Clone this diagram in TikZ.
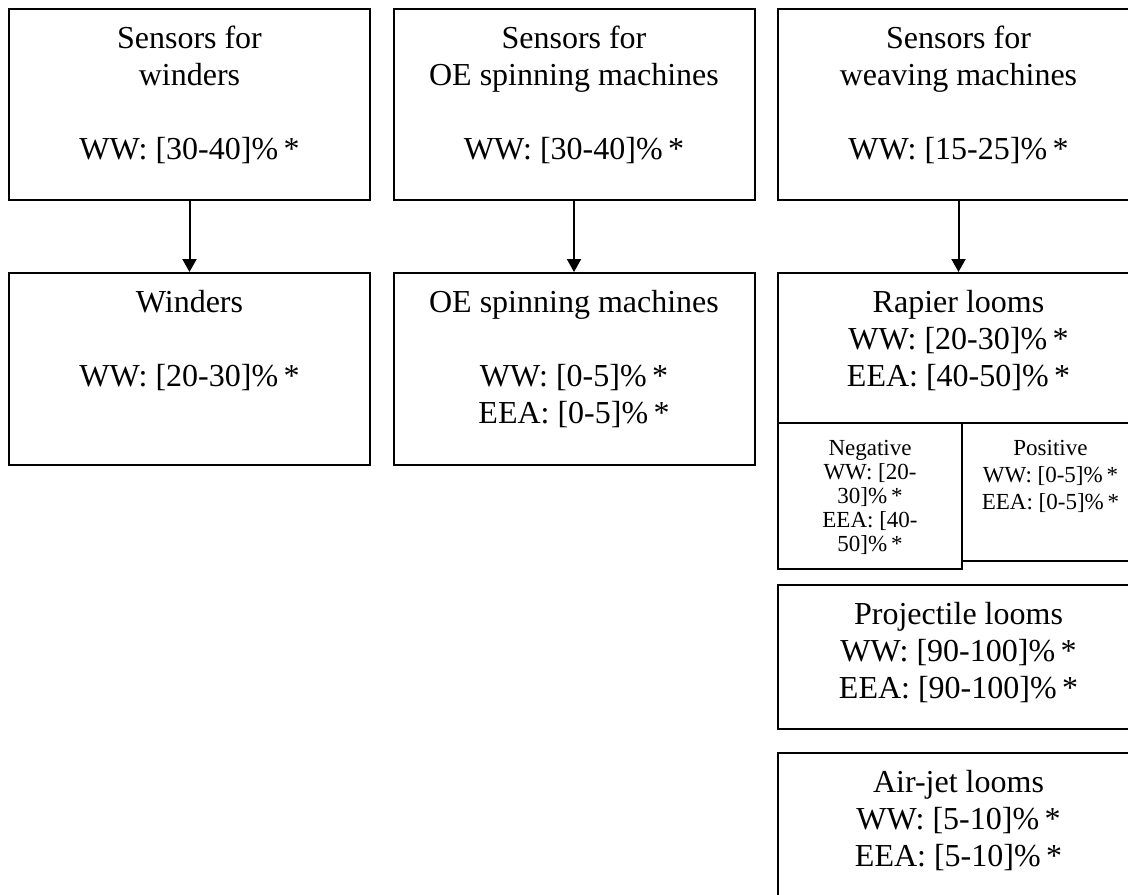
\documentclass[tikz,border=0pt]{standalone}
\usepackage{fontspec}
\setmainfont{Liberation Serif}
\usetikzlibrary{positioning}
\usetikzlibrary{arrows.meta}
\newcommand{\pcast}{\%\,*}
\tikzset{
 box/.style={draw, line width=1pt, minimum width=180.5pt, anchor=north west, inner sep=0},
 txt/.style={align=center, inner sep=0, font=\fontsize{16}{18.5}\selectfont},
 small/.style={align=center, inner sep=0, font=\fontsize{11.5}{12}\selectfont},
 link/.style={line width=1pt, -{Triangle[width=7pt,length=6.5pt]}}
}

\begin{document}
\begin{tikzpicture}[x=.5pt, y=-.5pt]
\useasboundingbox (0,0) rectangle (1128,894);
\clip (0,0) rectangle (1128,894);
% sensors
\node[box, minimum height=95.5pt] (sensWind) at (8,8) {};
\node[box, minimum height=95.5pt] (sensOE) at (392.5,8) {};
\node[box, minimum height=95.5pt] (sensWeave) at (777,8) {};
\node[txt, below=9pt of sensWind.north] (sensWind-t) {Sensors for\\winders\\[18.5pt]WW: [30-40]\pcast};
\node[txt, below=9pt of sensOE.north] (sensOE-t) {Sensors for\\OE spinning machines\\[18.5pt]WW: [30-40]\pcast};
\node[txt, below=9pt of sensWeave.north] (sensWeave-t) {Sensors for\\weaving machines\\[18.5pt]WW: [15-25]\pcast};
% machines
\node[box, minimum height=96pt] (wind) at (8,272) {};
\node[box, minimum height=96pt] (oe) at (392.5,272) {};
\node[box, minimum height=75pt] (rapier) at (777,272) {};
\node[txt, below=9pt of wind.north] (wind-t) {Winders\\[18.5pt]WW: [20-30]\pcast};
\node[txt, below=9pt of oe.north] (oe-t) {OE spinning machines\\[18.5pt]WW: [0-5]\pcast\\EEA: [0-5]\pcast};
\node[txt, below=9pt of rapier.north] (rapier-t) {Rapier looms\\WW: [20-30]\pcast\\EEA: [40-50]\pcast};
% rapier split
\node[box, minimum width=92pt, minimum height=73pt] (neg) at (777,422) {};
\node[box, minimum width=88.5pt, minimum height=69pt] (pos) at (961,422) {};
\node[small, below=9pt of neg.north] (neg-t) {Negative\\WW: [20-\\30]\pcast\\EEA: [40-\\50]\pcast};
\node[small, below=9pt of pos.north, font=\fontsize{11.5}{13.5}\selectfont] (pos-t) {Positive\\WW: [0-5]\pcast\\EEA: [0-5]\pcast};
% other looms
\node[box, minimum height=72pt] (proj) at (777,584) {};
\node[box, minimum height=75pt] (air) at (777,752) {};
\node[txt, below=9pt of proj.north] (proj-t) {Projectile looms\\WW: [90-100]\pcast\\EEA: [90-100]\pcast};
\node[txt, below=9pt of air.north] (air-t) {Air-jet looms\\WW: [5-10]\pcast\\EEA: [5-10]\pcast};
\foreach \a/\b in {sensWind/wind, sensOE/oe, sensWeave/rapier}
 \draw[link] (\a.south) -- (\b.north);
\end{tikzpicture}
\end{document}
